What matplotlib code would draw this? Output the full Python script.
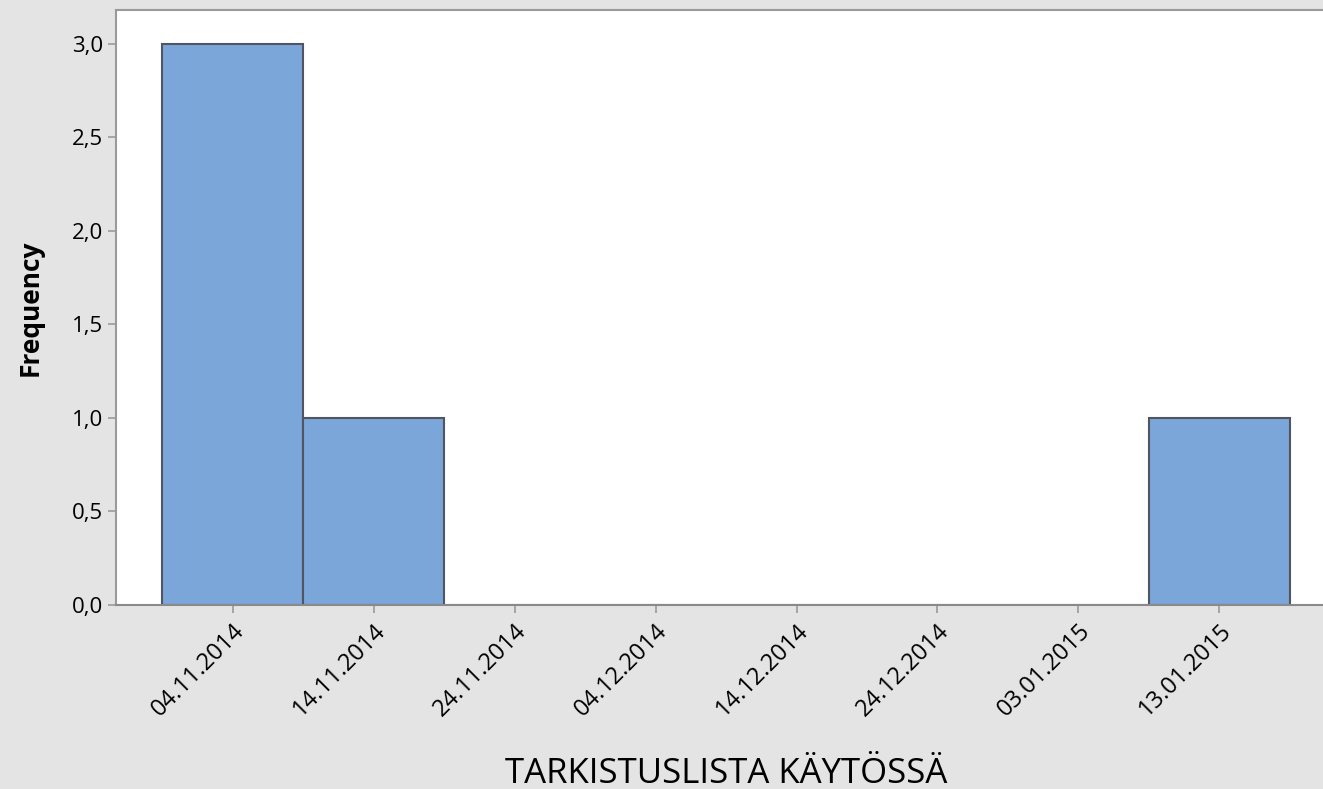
import numpy as np
import matplotlib.pyplot as plt
import matplotlib.dates as mdates
from matplotlib.ticker import FuncFormatter
import datetime as dt

# bin midpoints (10-day bins) and counts
bin_dates = ['04.11.2014', '14.11.2014', '24.11.2014', '04.12.2014',
             '14.12.2014', '24.12.2014', '03.01.2015', '13.01.2015']
counts = [3, 1, 0, 0, 0, 0, 0, 1]
yticks = [0.0, 0.5, 1.0, 1.5, 2.0, 2.5, 3.0]

plt.rcParams['font.family'] = ['Open Sans', 'DejaVu Sans']

centers = [mdates.date2num(dt.datetime.strptime(d, '%d.%m.%Y')) for d in bin_dates]

fig = plt.figure(figsize=(13.23, 7.89), dpi=100, facecolor='#e4e4e4')
W, H = 1323, 789
ax = fig.add_axes([116/W, 1 - 605/H, 1.01 - 116/W, (605 - 10)/H])
ax.set_facecolor('white')

ax.bar(centers, counts, width=10, align='center', color='#7ba6d9',
       edgecolor='#505560', linewidth=1.5, zorder=2)

ax.set_ylim(0, 3.18)
ax.set_xlim(centers[0] - 8.3, centers[0] + 78.3)
ax.set_yticks(yticks)
ax.yaxis.set_major_formatter(FuncFormatter(lambda v, p: ('%.1f' % v).replace('.', ',')))
ax.set_xticks(centers)
ax.set_xticklabels(bin_dates, rotation=45, ha='right', rotation_mode='anchor')

for s in ax.spines.values():
    s.set_color('#9a9a9a')
    s.set_linewidth(1.5)
ax.spines['right'].set_visible(False)
ax.spines['bottom'].set_color('#8a8a8a')

ax.tick_params(axis='both', colors='#9a9a9a', length=6, width=1.2,
               labelcolor='black', labelsize=16)
ax.tick_params(axis='x', labelsize=17, pad=4)

ax.set_ylabel('Frequency', fontsize=19, fontweight='bold', labelpad=20)
ax.set_xlabel('TARKISTUSLISTA KÄYTÖSSÄ', fontsize=25, labelpad=26)

fig.savefig('out.png', dpi=100, facecolor=fig.get_facecolor())
